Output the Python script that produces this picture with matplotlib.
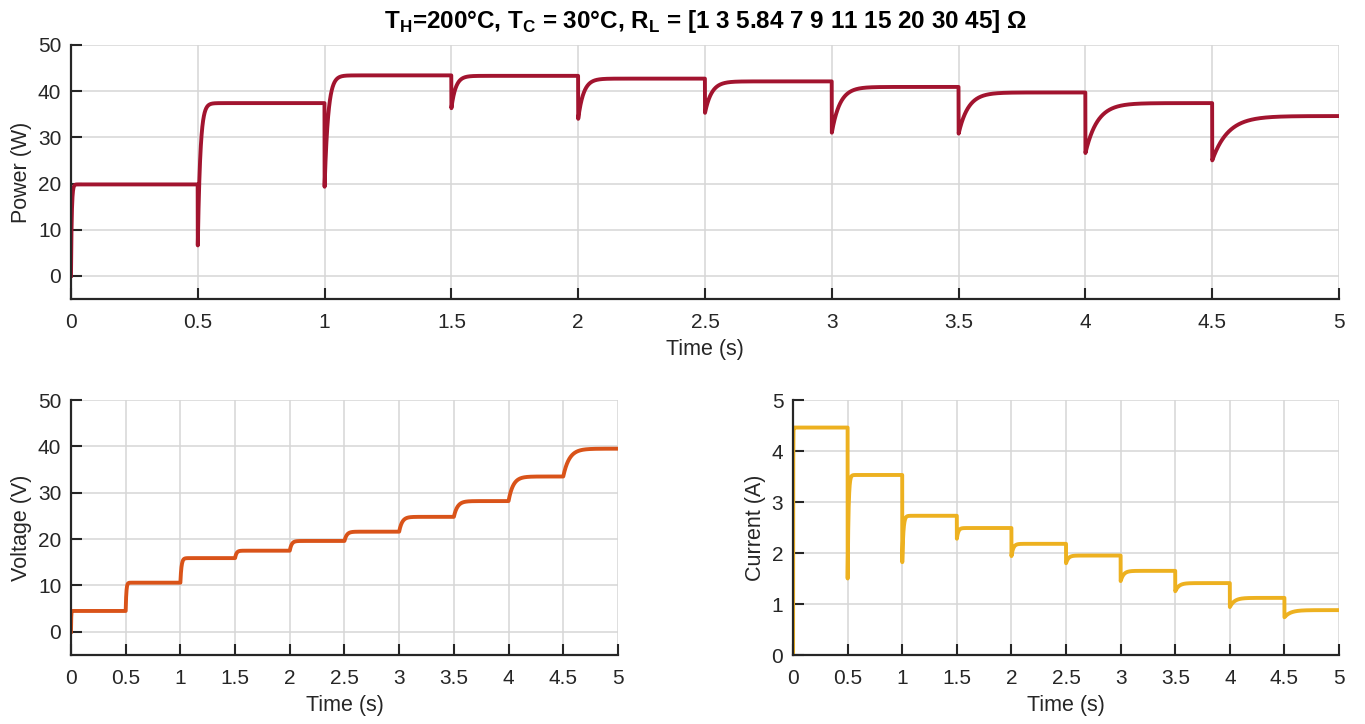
import numpy as np
import matplotlib
matplotlib.use('Agg')
import matplotlib.pyplot as plt

# ---- data ----
switch_times = [0.0, 0.5, 1.0, 1.5, 2.0, 2.5, 3.0, 3.5, 4.0, 4.5]
power_levels = [19.8, 37.4, 43.4, 43.3, 42.7, 42.1, 40.9, 39.7, 37.4, 34.6]
power_dips = [0.0, 6.6, 19.3, 36.3, 34.0, 35.3, 31.0, 30.8, 26.6, 25.0]
power_tau = [0.003, 0.010, 0.014, 0.017, 0.021, 0.026, 0.032, 0.038, 0.047, 0.062]
voltage_levels = [4.5, 10.6, 15.9, 17.5, 19.6, 21.6, 24.8, 28.2, 33.5, 39.5]
voltage_tau = [0.002, 0.006, 0.010, 0.013, 0.017, 0.021, 0.027, 0.033, 0.042, 0.055]
current_levels = [4.46, 3.53, 2.73, 2.49, 2.18, 1.95, 1.65, 1.41, 1.12, 0.88]
current_dips = [0.0, 1.50, 1.82, 2.28, 1.94, 1.80, 1.45, 1.25, 0.94, 0.74]
current_tau = [0.001, 0.008, 0.010, 0.013, 0.017, 0.021, 0.027, 0.033, 0.042, 0.055]
t_end = 5.0
xtick_vals = [0, 0.5, 1, 1.5, 2, 2.5, 3, 3.5, 4, 4.5, 5]
xtick_labels = ['0', '0.5', '1', '1.5', '2', '2.5', '3', '3.5', '4', '4.5', '5']
title = r'T$_\mathbf{H}$=200°C, T$_\mathbf{C}$ = 30°C, R$_\mathbf{L}$ = [1 3 5.84 7 9 11 15 20 30 45] Ω'

# ---- step-response waveform from the read levels ----
t = np.linspace(0, t_end, 10001)


def waveform(levels, starts, taus):
    y = np.zeros_like(t)
    bounds = list(switch_times) + [t_end + 1]
    for k in range(len(levels)):
        m = (t >= bounds[k]) & (t < bounds[k + 1])
        dt = t[m] - bounds[k]
        y[m] = levels[k] + (starts[k] - levels[k]) * np.exp(-dt / taus[k])
    return y


power = waveform(power_levels, power_dips, power_tau)
voltage = waveform(voltage_levels, [0.0] + voltage_levels[:-1], voltage_tau)
current = waveform(current_levels, current_dips, current_tau)

plt.rcParams['font.family'] = ['Liberation Sans', 'DejaVu Sans']
plt.rcParams['mathtext.fontset'] = 'custom'
plt.rcParams['mathtext.bf'] = 'Liberation Sans:bold'
plt.rcParams['mathtext.rm'] = 'Liberation Sans'

TXT = '#262626'
GRID = '#d6d6d6'

fig = plt.figure(figsize=(13.65, 7.24), dpi=100)
ax_p = fig.add_axes([0.052, 0.587, 0.929, 0.351])
ax_v = fig.add_axes([0.052, 0.0953, 0.4007, 0.3522])
ax_i = fig.add_axes([0.581, 0.0953, 0.400, 0.3522])


def style(ax, ylim, yticks, ylabel):
    ax.set_xlim(0, 5)
    ax.set_ylim(*ylim)
    ax.set_xticks(xtick_vals)
    ax.set_xticklabels(xtick_labels)
    ax.set_yticks(yticks)
    ax.grid(True, color=GRID, lw=1.1)
    ax.set_axisbelow(True)
    for s in ['top', 'right']:
        ax.spines[s].set_visible(False)
    for s in ['left', 'bottom']:
        ax.spines[s].set_color(TXT)
        ax.spines[s].set_linewidth(1.6)
    ax.tick_params(direction='in', length=8, width=1.5, colors=TXT,
                   labelsize=15)
    ax.tick_params(axis='x', pad=10)
    ax.tick_params(axis='y', pad=7)
    ax.set_xlabel('Time (s)', fontsize=15.5, color=TXT, labelpad=5)
    ax.set_ylabel(ylabel, fontsize=15.5, color=TXT, labelpad=4)


ax_p.plot(t, power, color='#A2142F', lw=2.8)
style(ax_p, (-5, 50), [0, 10, 20, 30, 40, 50], 'Power (W)')

ax_v.plot(t, voltage, color='#D95319', lw=2.8)
style(ax_v, (-5, 50), [0, 10, 20, 30, 40, 50], 'Voltage (V)')

ax_i.plot(t, current, color='#EDB120', lw=2.8)
style(ax_i, (0, 5), [0, 1, 2, 3, 4, 5], 'Current (A)')

fig.text(0.517, 0.970, title, ha='center', va='center', fontsize=17.5,
         fontweight='bold', color='black')

fig.savefig('out.png', dpi=100)
